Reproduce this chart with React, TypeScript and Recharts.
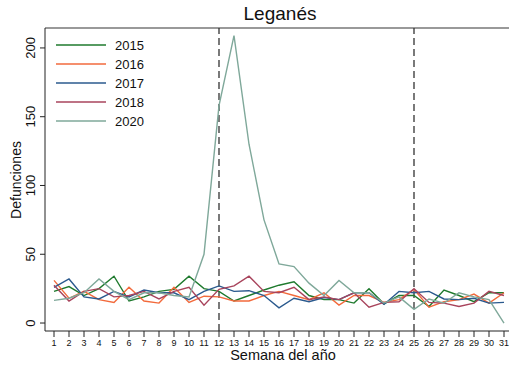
import React from 'react';
import { LineChart, Line, XAxis, YAxis, ReferenceLine, Legend } from 'recharts';

const weeks = [1, 2, 3, 4, 5, 6, 7, 8, 9, 10, 11, 12, 13, 14, 15, 16, 17, 18, 19, 20, 21, 22, 23, 24, 25, 26, 27, 28, 29, 30, 31];
const y2015 = [23, 26.5, 20, 25, 34, 16, 19, 23, 24.5, 34, 25, 23, 16, 20, 24, 27.5, 30, 20, 17, 17, 14.5, 25, 14, 20, 20, 12, 24, 20, 15.5, 22, 22];
const y2016 = [31, 18, 23, 17, 15, 26, 16, 14.5, 26, 15, 19.5, 19, 16, 16, 20, 23, 20, 17, 22, 13, 20, 20, 15, 17, 24.5, 11.5, 15.5, 17, 21, 14.5, 22];
const y2017 = [26, 32, 19, 17.5, 23, 19, 24, 22, 22, 17, 23, 27, 23, 23.5, 20, 11, 18, 15.5, 18.5, 17, 22, 22, 13.5, 23, 22, 23, 17.5, 17, 18, 14.5, 15];
const y2018 = [27.5, 16, 23, 25, 19, 20, 23, 17.5, 23, 26, 13, 24.5, 27, 34, 23, 22, 26, 17, 19, 17, 22, 11.5, 15, 15.5, 25, 15, 14.5, 12, 14.5, 23, 20];
const y2020 = [16.5, 18, 22, 32, 23, 17, 22, 22, 20, 19, 50, 158, 209, 130, 75, 43, 41, 29, 20, 31, 22, 22, 14.5, 19, 10, 17.5, 14.5, 22, 19, 17, 0];
const yTicks = [0, 50, 100, 150, 200];
const yDomain = [-5.8, 214.5];
const seriesNames = ['2015', '2016', '2017', '2018', '2020'];
const seriesColors = ['#1f7a2e', '#f26a3c', '#2b5a8e', '#a8445c', '#7fa89a'];
const dividerWeeks = [12, 25];

const data = weeks.map((w, i) => ({
  week: w,
  s0: y2015[i],
  s1: y2016[i],
  s2: y2017[i],
  s3: y2018[i],
  s4: y2020[i],
}));

const FONT = '"Liberation Sans", Arial, Helvetica, sans-serif';

const XTick = (props: any) => {
  const { x, payload } = props;
  return (
    <text x={x} y={343} textAnchor="middle" dominantBaseline="central" fontSize={9} fontFamily={FONT} fill="#111">
      {payload.value}
    </text>
  );
};

const YTick = (props: any) => {
  const { y, payload } = props;
  return (
    <text x={31} y={y} transform={`rotate(-90 31 ${y})`} textAnchor="middle" dominantBaseline="central" fontSize={13} fontFamily={FONT} fill="#111">
      {payload.value}
    </text>
  );
};

const LegendContent = () => (
  <svg width={120} height={110} style={{ display: 'block' }}>
    {seriesNames.map((n, i) => (
      <g key={n}>
        <line x1={6} x2={56} y1={10 + i * 19} y2={10 + i * 19} stroke={seriesColors[i]} strokeWidth={1.5} />
        <text x={65} y={10 + i * 19} dominantBaseline="central" fontSize={13} fontFamily={FONT} fill="#111">
          {n}
        </text>
      </g>
    ))}
  </svg>
);

export default function App() {
  return (
    <div style={{ position: 'absolute', left: 0, top: 0, width: 509, height: 367, background: '#fff' }}>
      <div
        style={{
          position: 'absolute',
          left: 0,
          top: 3,
          width: 560,
          textAlign: 'center',
          fontFamily: FONT,
          fontSize: 19,
          lineHeight: '22px',
          color: '#111',
        }}
      >
        Leganés
      </div>
      <LineChart width={509} height={367} data={data} margin={{ top: 28, right: 0, bottom: 0, left: 0 }}>
        <XAxis
          dataKey="week"
          type="number"
          domain={[1, 31]}
          ticks={weeks}
          interval={0}
          padding={{ left: 9, right: 5 }}
          height={36}
          tick={<XTick />}
          tickSize={6}
          stroke="#222"
          axisLine={{ stroke: '#222' }}
          tickLine={{ stroke: '#222' }}
          label={{
            content: () => (
              <text x={283} y={355} textAnchor="middle" dominantBaseline="central" fontSize={14.5} fontFamily={FONT} fill="#111">
                Semana del año
              </text>
            ),
          }}
        />
        <YAxis
          type="number"
          domain={yDomain}
          ticks={yTicks}
          width={45}
          tick={<YTick />}
          tickSize={5}
          axisLine={{ stroke: '#222' }}
          tickLine={{ stroke: '#222' }}
          label={{
            content: () => (
              <text x={16} y={180} transform="rotate(-90 16 180)" textAnchor="middle" dominantBaseline="central" fontSize={14} fontFamily={FONT} fill="#111">
                Defunciones
              </text>
            ),
          }}
        />
        <ReferenceLine y={yDomain[1]} stroke="#777" strokeWidth={1.6} ifOverflow="visible" />
        {dividerWeeks.map((w) => (
          <ReferenceLine key={w} x={w} stroke="#333" strokeDasharray="7 4" strokeWidth={1.3} />
        ))}
        {seriesNames.map((n, i) => (
          <Line
            key={n}
            dataKey={`s${i}`}
            name={n}
            stroke={seriesColors[i]}
            strokeWidth={1.4}
            dot={false}
            activeDot={false}
            isAnimationActive={false}
            type="linear"
          />
        ))}
        <Legend
          layout="vertical"
          align="center"
          verticalAlign="middle"
          content={<LegendContent />}
          wrapperStyle={{ position: 'absolute', left: 50, top: 35, width: 120, height: 110 }}
        />
      </LineChart>
    </div>
  );
}
